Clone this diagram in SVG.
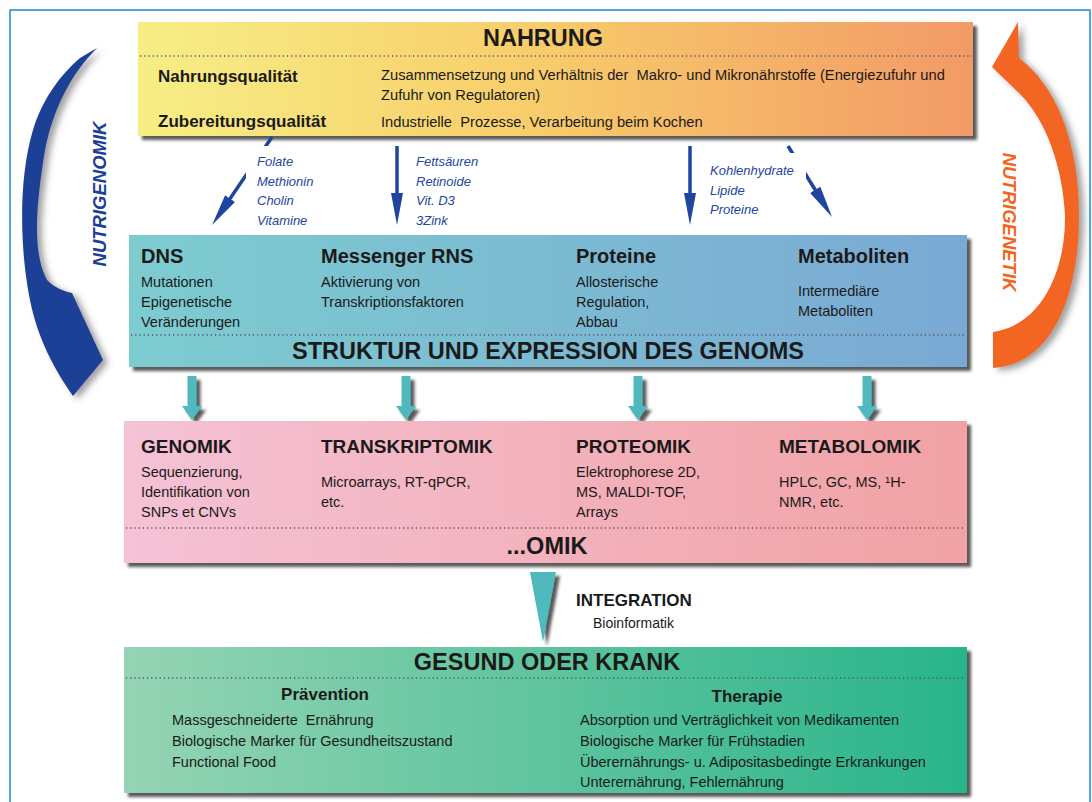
<svg xmlns="http://www.w3.org/2000/svg" width="1092" height="802" viewBox="0 0 1092 802">
<defs>
<linearGradient id="gNahrung" x1="0" y1="0" x2="1" y2="0">
<stop offset="0" stop-color="#f7ee86"/><stop offset="0.45" stop-color="#f8cf6c"/><stop offset="1" stop-color="#f29a66"/>
</linearGradient>
<linearGradient id="gGenom" x1="0" y1="0" x2="1" y2="0">
<stop offset="0" stop-color="#7dccd0"/><stop offset="1" stop-color="#7aa9d4"/>
</linearGradient>
<linearGradient id="gOmik" x1="0" y1="0" x2="1" y2="0">
<stop offset="0" stop-color="#f5c2d6"/><stop offset="1" stop-color="#f1a2a4"/>
</linearGradient>
<linearGradient id="gGesund" x1="0" y1="0" x2="1" y2="0">
<stop offset="0" stop-color="#95d4b4"/><stop offset="1" stop-color="#28b48a"/>
</linearGradient>
<filter id="shadow" x="-5%" y="-5%" width="115%" height="120%">
<feDropShadow dx="4" dy="4" stdDeviation="1.5" flood-color="#222" flood-opacity="0.75"/>
</filter>
<filter id="softShadow" x="-30%" y="-10%" width="170%" height="130%">
<feDropShadow dx="5" dy="3" stdDeviation="3" flood-color="#444" flood-opacity="0.5"/>
</filter>
<marker id="blueHead" markerWidth="32" markerHeight="12" refX="12" refY="6" orient="auto" markerUnits="userSpaceOnUse">
<path d="M0,0 L32,6 L0,12 z" fill="#1e45a0"/>
</marker>
<marker id="blackHead" markerWidth="17" markerHeight="15" refX="6" refY="7.5" orient="auto" markerUnits="userSpaceOnUse">
<path d="M0,0 L17,7.5 L0,15 z" fill="#000"/>
</marker>
</defs>
<style>
text{font-family:"Liberation Sans",Arial,sans-serif;fill:#1a1a1a;white-space:pre}
.h1{font-size:23.5px;font-weight:bold}
.h2{font-size:20px;font-weight:bold}
.h3{font-size:19px;font-weight:bold}
.sub{font-size:17px;font-weight:bold}
.t{font-size:14.5px}
.tn{font-size:14.7px}
.t2{font-size:14.5px}
.lab{font-size:13px;font-style:italic;fill:#2346a0}
.dots{stroke:#555;stroke-width:1.6;stroke-dasharray:1.2 3;fill:none}
.blue{stroke:#1e45a0;stroke-width:3.5;fill:none}
.black{stroke:#000;stroke-width:2.5;fill:none}
.teal{fill:#4fb9be}
</style>
<rect x="10" y="10" width="1080" height="810" fill="#fff" stroke="#1a8ad4" stroke-width="1.5"/>

<g id="nutrigenomik">
<path d="M80,58 L97,48 C70,75 53,110 45,150 C37,200 31,250 47,280 C55,288 63,291 72,293 L103,360 L73,396 C55,370 38,340 30,300 C20,250 18,180 33,130 C42,100 60,75 80,58 Z" fill="#1e3f96" filter="url(#softShadow)"/>
<text transform="translate(106,194) rotate(-90)" text-anchor="middle" style="font-size:18.5px;font-weight:bold;font-style:italic;fill:#1e3f96">NUTRIGENOMIK</text>
</g>

<g id="nutrigenetik">
<path d="M1018,22 L992,67 L1019,93 C1047,120 1063,170 1065,215 C1066,270 1042,325 993,332 L993,368 C1050,365 1079,300 1079,215 C1079,140 1055,85 1019,58 Z" fill="#f26522" filter="url(#softShadow)"/>
<text transform="translate(1003,222) rotate(90)" text-anchor="middle" style="font-size:18.5px;font-weight:bold;font-style:italic;fill:#f26522">NUTRIGENETIK</text>
</g>

<g id="nahrung">
<rect x="138" y="22" width="835" height="114" fill="url(#gNahrung)" filter="url(#shadow)"/>
<line class="dots" x1="140" y1="56" x2="972" y2="56"/>
<text class="h1" x="543" y="46" text-anchor="middle">NAHRUNG</text>
<text class="sub" x="158" y="82">Nahrungsqualität</text>
<text class="sub" x="158" y="127">Zubereitungsqualität</text>
<text class="tn" x="381" y="80">Zusammensetzung und Verhältnis der  Makro- und Mikronährstoffe (Energiezufuhr und</text>
<text class="tn" x="381" y="100">Zufuhr von Regulatoren)</text>
<text class="tn" x="381" y="127">Industrielle  Prozesse, Verarbeitung beim Kochen</text>
</g>

<g id="connectors">
<line class="blue" x1="272" y1="137" x2="223.3" y2="208.5" marker-end="url(#blueHead)"/>
<line class="blue" x1="397" y1="146" x2="397" y2="205" marker-end="url(#blueHead)"/>
<line class="blue" x1="690" y1="146" x2="690" y2="205" marker-end="url(#blueHead)"/>
<line class="blue" x1="788" y1="146" x2="821.5" y2="200" marker-end="url(#blueHead)"/>
<line class="black" x1="210" y1="258" x2="288" y2="258" marker-end="url(#blackHead)"/>
<line class="black" x1="478" y1="254" x2="555" y2="254" marker-end="url(#blackHead)"/>
<line class="black" x1="690" y1="258" x2="768" y2="258" marker-end="url(#blackHead)"/>
<g filter="url(#shadow)">
<path class="teal" d="M187.5,376 L196.5,376 L196.5,406 L202,406 L192,420 L182,406 L187.5,406 Z"/>
<path class="teal" d="M401.5,376 L410.5,376 L410.5,406 L416,406 L406,420 L396,406 L401.5,406 Z"/>
<path class="teal" d="M633.5,376 L642.5,376 L642.5,406 L648,406 L638,420 L628,406 L633.5,406 Z"/>
<path class="teal" d="M862.5,376 L871.5,376 L871.5,406 L877,406 L867,420 L857,406 L862.5,406 Z"/>
<path class="teal" d="M530,572 L556,572 L543,642 Z"/>
</g>
</g>

<g id="labels">
<rect x="246" y="146" width="81" height="89" fill="#fff"/>
<text class="lab" x="257" y="166">Folate</text>
<text class="lab" x="257" y="186">Methionin</text>
<text class="lab" x="257" y="205">Cholin</text>
<text class="lab" x="257" y="225">Vitamine</text>
<text class="lab" x="416" y="166">Fettsäuren</text>
<text class="lab" x="416" y="186">Retinoide</text>
<text class="lab" x="416" y="205">Vit. D3</text>
<text class="lab" x="416" y="225">3Zink</text>
<rect x="704" y="153" width="102" height="66" fill="#fff"/>
<text class="lab" x="710" y="175">Kohlenhydrate</text>
<text class="lab" x="710" y="195">Lipide</text>
<text class="lab" x="710" y="214">Proteine</text>
</g>

<g id="genom">
<rect x="129" y="235" width="838" height="132" fill="url(#gGenom)" filter="url(#shadow)"/>
<line class="dots" x1="131" y1="335" x2="965" y2="335"/>
<text class="h2" x="141" y="263">DNS</text>
<text class="t" x="141" y="287">Mutationen</text>
<text class="t" x="141" y="307">Epigenetische</text>
<text class="t" x="141" y="327">Veränderungen</text>
<text class="h2" x="321" y="263">Messenger RNS</text>
<text class="t" x="321" y="287">Aktivierung von</text>
<text class="t" x="321" y="307">Transkriptionsfaktoren</text>
<text class="h2" x="576" y="263">Proteine</text>
<text class="t" x="576" y="287">Allosterische</text>
<text class="t" x="576" y="307">Regulation,</text>
<text class="t" x="576" y="327">Abbau</text>
<text class="h2" x="798" y="263">Metaboliten</text>
<text class="t" x="798" y="296">Intermediäre</text>
<text class="t" x="798" y="316">Metaboliten</text>
<text class="h1" x="548" y="359" text-anchor="middle">STRUKTUR UND EXPRESSION DES GENOMS</text>
</g>

<g id="omik">
<rect x="124" y="421" width="843" height="142" fill="url(#gOmik)" filter="url(#shadow)"/>
<line class="dots" x1="126" y1="528" x2="965" y2="528"/>
<text class="h3" x="141" y="453">GENOMIK</text>
<text class="t2" x="141" y="477">Sequenzierung,</text>
<text class="t2" x="141" y="497">Identifikation von</text>
<text class="t2" x="141" y="517">SNPs et CNVs</text>
<text class="h3" x="321" y="453">TRANSKRIPTOMIK</text>
<text class="t2" x="321" y="487">Microarrays, RT-qPCR,</text>
<text class="t2" x="321" y="507">etc.</text>
<text class="h3" x="576" y="453">PROTEOMIK</text>
<text class="t2" x="576" y="477">Elektrophorese 2D,</text>
<text class="t2" x="576" y="497">MS, MALDI-TOF,</text>
<text class="t2" x="576" y="517">Arrays</text>
<text class="h3" x="779" y="453">METABOLOMIK</text>
<text class="t2" x="779" y="487">HPLC, GC, MS, ¹H-</text>
<text class="t2" x="779" y="507">NMR, etc.</text>
<text class="h1" x="547" y="554" text-anchor="middle">...OMIK</text>
</g>

<g id="integration">
<text x="576" y="606" style="font-size:17px;font-weight:bold">INTEGRATION</text>
<text x="593" y="628" style="font-size:14px">Bioinformatik</text>
</g>

<g id="gesund">
<rect x="124" y="647" width="843" height="146" fill="url(#gGesund)" filter="url(#shadow)"/>
<line class="dots" x1="126" y1="678" x2="965" y2="678"/>
<text class="h1" x="547" y="670" text-anchor="middle">GESUND ODER KRANK</text>
<text class="sub" x="325" y="700" text-anchor="middle">Prävention</text>
<text class="t2" x="172" y="725">Massgeschneiderte  Ernährung</text>
<text class="t2" x="172" y="746">Biologische Marker für Gesundheitszustand</text>
<text class="t2" x="172" y="767">Functional Food</text>
<text class="sub" x="747" y="702" text-anchor="middle">Therapie</text>
<text class="t2" x="580" y="725">Absorption und Verträglichkeit von Medikamenten</text>
<text class="t2" x="580" y="746">Biologische Marker für Frühstadien</text>
<text class="t2" x="580" y="767">Überernährungs- u. Adipositasbedingte Erkrankungen</text>
<text class="t2" x="580" y="787">Unterernährung, Fehlernährung</text>
</g>
</svg>
